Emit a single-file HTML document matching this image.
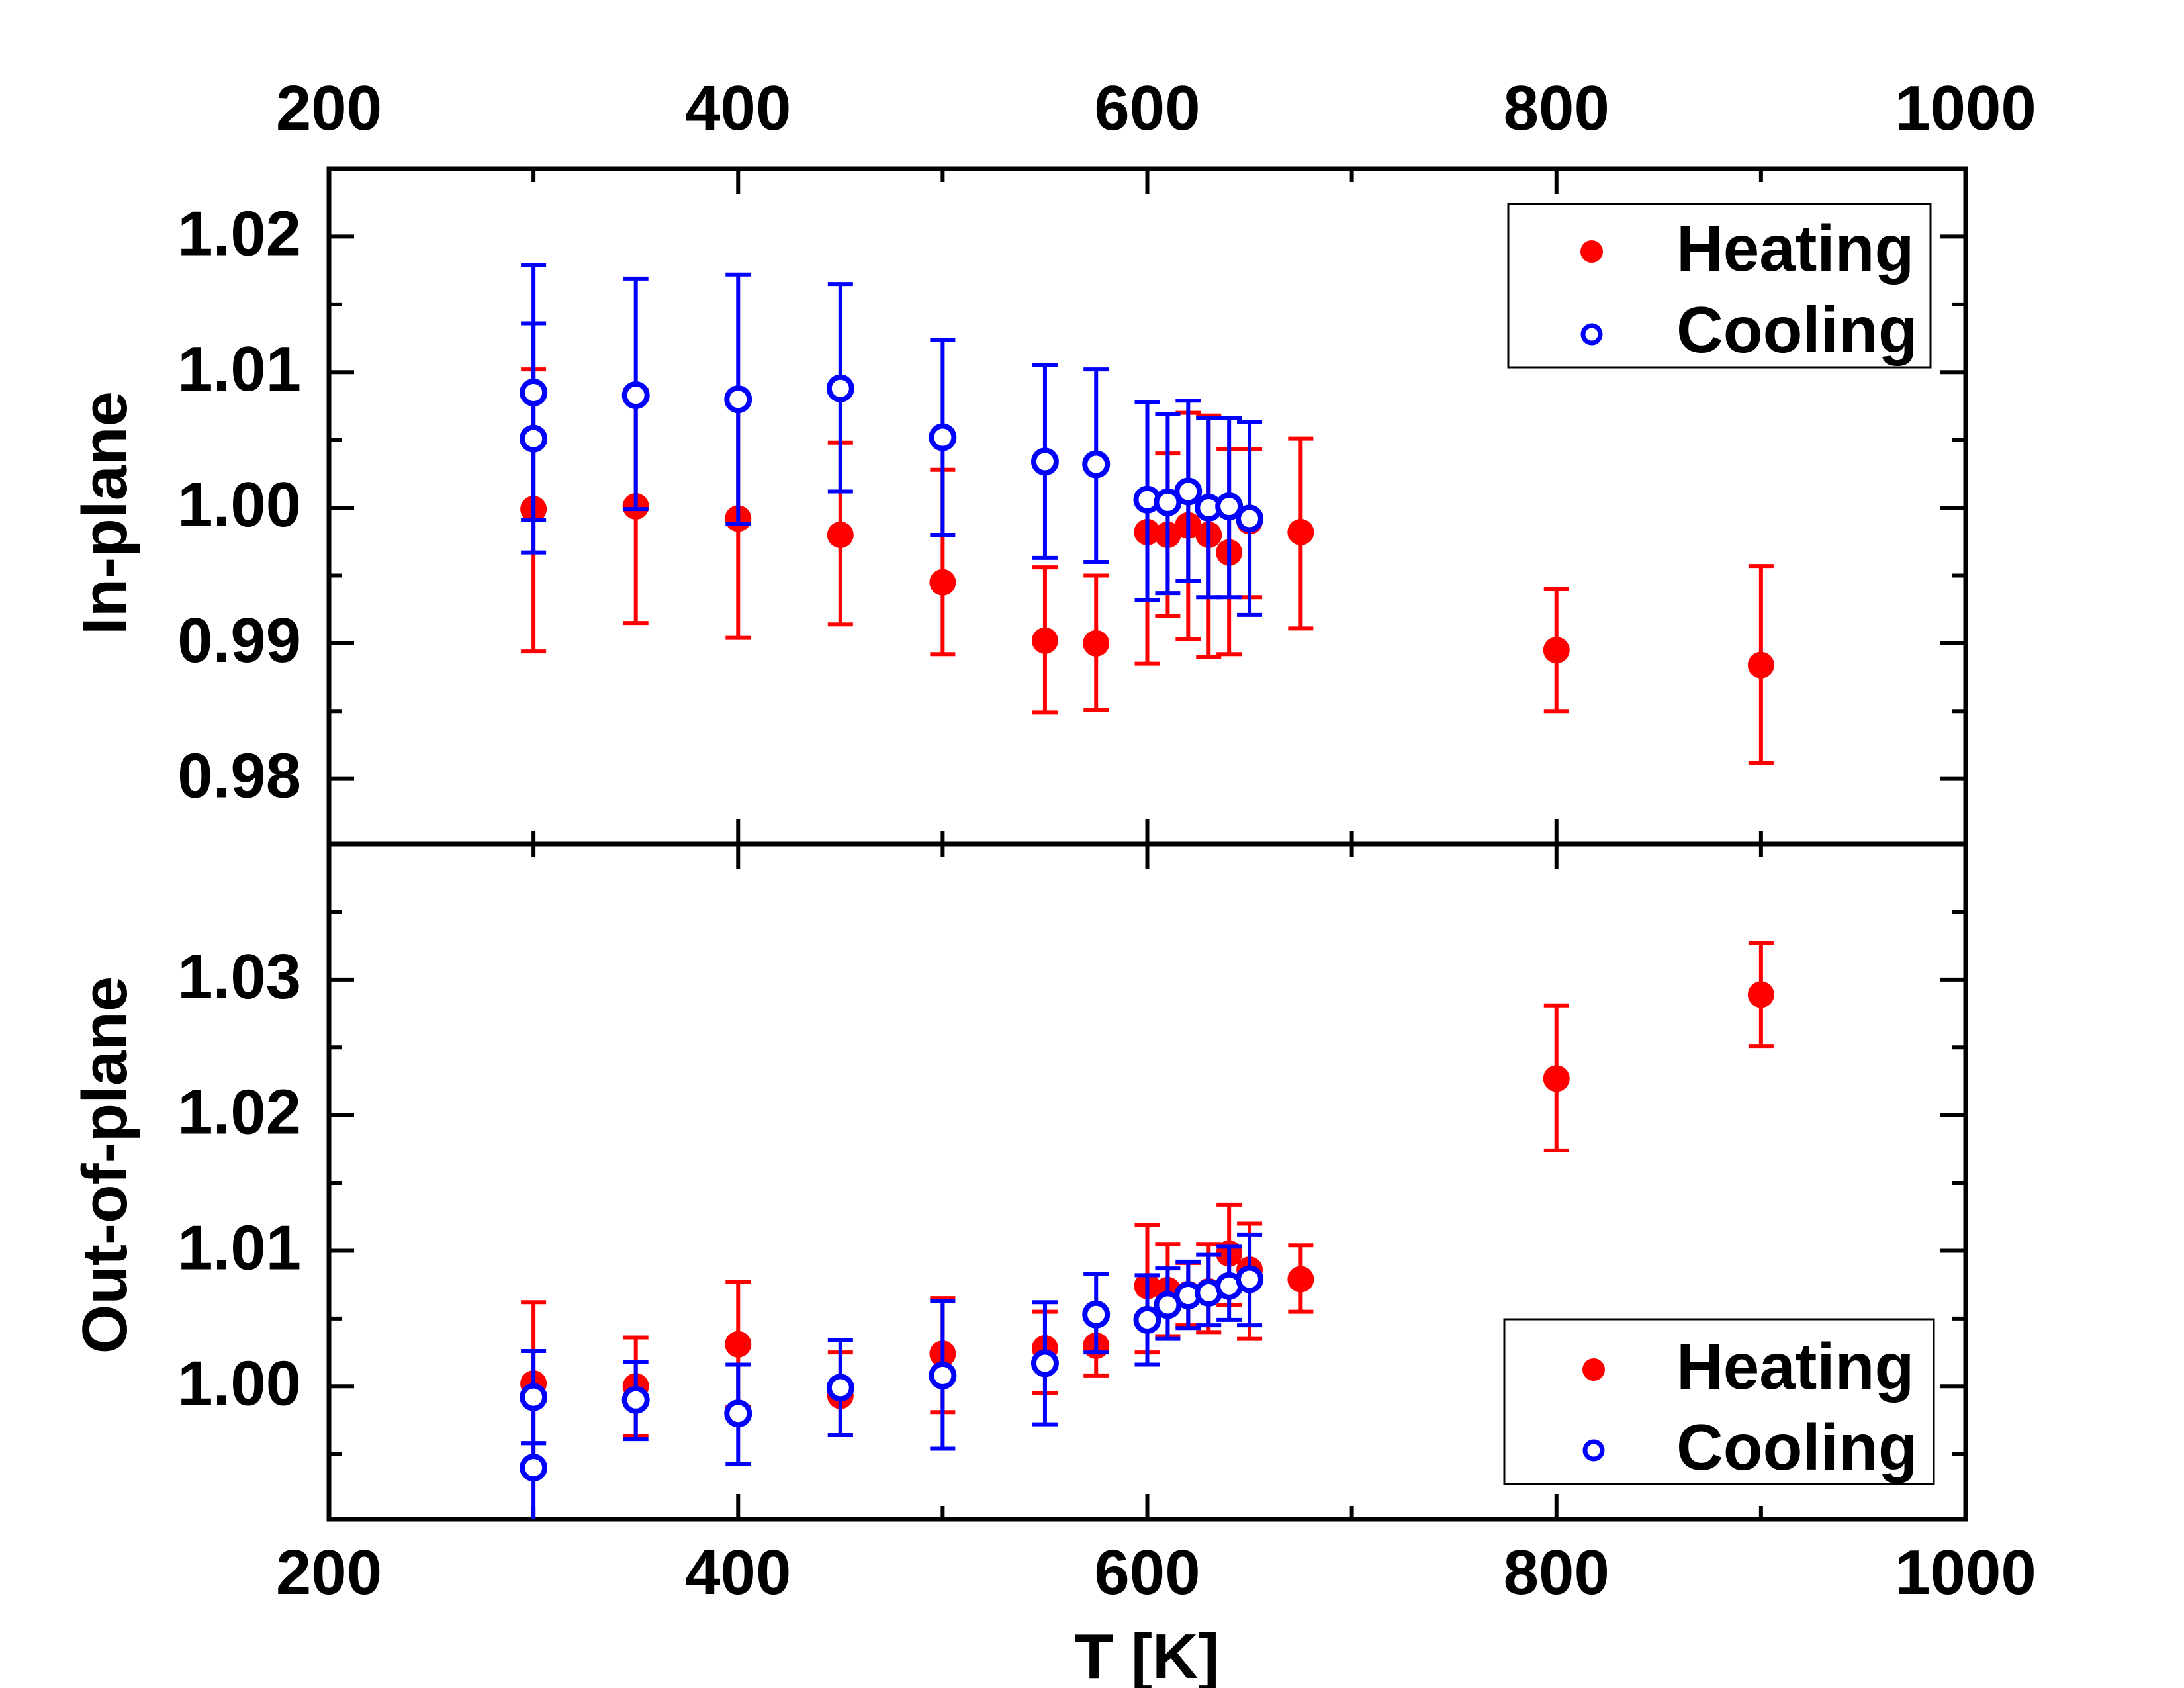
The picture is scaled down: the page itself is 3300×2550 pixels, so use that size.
<!DOCTYPE html>
<html><head><meta charset="utf-8"><style>
html,body{margin:0;padding:0;background:#fff;}
svg{display:block;font-family:"Liberation Sans",Arial,sans-serif;font-weight:bold;}
</style></head><body>
<svg id="chart" width="3300" height="2550" viewBox="0 0 3300 2550" xmlns="http://www.w3.org/2000/svg">
<defs>
<clipPath id="clipTop"><rect x="497" y="255" width="2473" height="1020"/></clipPath>
<clipPath id="clipBot"><rect x="497" y="1275" width="2473" height="1020"/></clipPath>
</defs>
<g id="axes"></g>
<g id="series"></g>
<text x="1733" y="2535" font-size="96" text-anchor="middle">T [K]</text>
<text transform="translate(191,775) rotate(-90)" font-size="96" text-anchor="middle">In-plane</text>
<text transform="translate(191,1760) rotate(-90)" font-size="96" text-anchor="middle">Out-of-plane</text>
<g>
<rect x="2279" y="308" width="638" height="247" fill="#fff" stroke="#000" stroke-width="3"/>
<circle cx="2405" cy="380" r="17" fill="#ff0000"/>
<text x="2533" y="409" font-size="98">Heating</text>
<circle cx="2405" cy="505" r="13" fill="#fff" stroke="#0000ff" stroke-width="7"/>
<text x="2533" y="532" font-size="98">Cooling</text>
</g>
<g>
<rect x="2273" y="1993" width="649" height="249" fill="#fff" stroke="#000" stroke-width="3"/>
<circle cx="2408" cy="2069" r="17" fill="#ff0000"/>
<text x="2533" y="2098" font-size="98">Heating</text>
<circle cx="2408" cy="2191" r="13" fill="#fff" stroke="#0000ff" stroke-width="7"/>
<text x="2533" y="2220" font-size="98">Cooling</text>
</g>
</svg>
<script>
// ---- data ----
const inHeatT   = [300,350,400,450,500,550,575,600,610,620,630,640,650,675,800,900];
const inHeatV   = [0.9999,1.0001,0.9992,0.9980,0.9945,0.9902,0.9900,0.9982,0.9980,0.9987,0.9980,0.9967,0.9990,0.9982,0.9895,0.9884];
const inHeatHi  = [1.0102,1.0087,1.0080,1.0048,1.0028,0.9956,0.9950,1.0078,1.0040,1.0070,1.0068,1.0043,1.0043,1.0051,0.9940,0.9957];
const inHeatLo  = [0.9894,0.9915,0.9904,0.9914,0.9892,0.9849,0.9851,0.9885,0.9920,0.9903,0.9890,0.9892,0.9934,0.9911,0.9850,0.9812];
const inCoolT   = [300,300,350,400,450,500,550,575,600,610,620,630,640,650];
const inCoolV   = [1.0085,1.0051,1.0083,1.0080,1.0088,1.0052,1.0034,1.0032,1.0006,1.0004,1.0012,1.0000,1.0001,0.9992];
const inCoolHi  = [1.0179,1.0136,1.0169,1.0172,1.0165,1.0124,1.0105,1.0102,1.0078,1.0069,1.0079,1.0066,1.0066,1.0063];
const inCoolLo  = [0.9991,0.9967,0.9999,0.9988,1.0012,0.9980,0.9963,0.9960,0.9932,0.9937,0.9946,0.9934,0.9934,0.9921];
const outHeatT  = [300,350,400,450,500,550,575,600,610,620,630,640,650,675,800,900];
const outHeatV  = [1.0002,1.0000,1.0031,0.9993,1.0024,1.0028,1.0030,1.0074,1.0071,1.0068,1.0070,1.0098,1.0086,1.0079,1.0227,1.0289];
const outHeatHi = [1.0062,1.0036,1.0077,1.0025,1.0065,1.0055,1.0055,1.0119,1.0105,1.0091,1.0105,1.0134,1.0120,1.0104,1.0281,1.0327];
const outHeatLo = [0.9940,0.9963,0.9985,0.9964,0.9981,0.9995,1.0008,1.0025,1.0037,1.0045,1.0040,1.0060,1.0035,1.0055,1.0174,1.0251];
const outCoolT  = [300,300,350,400,450,500,550,575,600,610,620,630,640,650];
const outCoolV  = [0.9992,0.9940,0.9990,0.9980,0.9999,1.0008,1.0017,1.0053,1.0049,1.0060,1.0067,1.0069,1.0074,1.0079];
const outCoolHi = [1.0026,0.9958,1.0018,1.0016,1.0034,1.0063,1.0062,1.0083,1.0082,1.0087,1.0092,1.0097,1.0103,1.0112];
const outCoolLo = [0.9958,0.9880,0.9961,0.9943,0.9964,0.9954,0.9972,1.0025,1.0016,1.0035,1.0043,1.0045,1.0049,1.0045];
const xTicks = [200,400,600,800,1000];
const topYTicks = [0.98,0.99,1.00,1.01,1.02];
const botYTicks = [1.00,1.01,1.02,1.03];

// ---- scales ----
const L=497,R=2970,T=255,M=1275,B=2295;
const x = t => L + (t-200)*(R-L)/800;
const yTop = v => T + (1.025 - v)*(M-T)/0.0498;
const yBot = v => M + (1.04 - v)*(B-M)/0.0498;
const NS="http://www.w3.org/2000/svg";
function mk(tag, attrs, parent){const e=document.createElementNS(NS,tag);for(const k in attrs)e.setAttribute(k,attrs[k]);parent.appendChild(e);return e;}
const axes=document.getElementById('axes');
const series=document.getElementById('series');

// frames
mk('rect',{x:L,y:T,width:R-L,height:B-T,fill:'none',stroke:'#000','stroke-width':7},axes);
mk('line',{x1:L,y1:M,x2:R,y2:M,stroke:'#000','stroke-width':7},axes);

// x ticks
for(let t=200;t<=1000;t+=100){
  const len = t%200===0?38:20, X=x(t);
  [[T,1],[M,-1],[M,1],[B,-1]].forEach(([y0,d])=>{
    mk('line',{x1:X,y1:y0,x2:X,y2:y0+d*len,stroke:'#000','stroke-width':6},axes);
  });
}
xTicks.forEach(t=>{
  const a=mk('text',{x:x(t),y:196,'font-size':96,'text-anchor':'middle'},axes);a.textContent=t;
  
  
  const b=mk('text',{x:x(t),y:2408,'font-size':96,'text-anchor':'middle'},axes);b.textContent=t;
  
  
});
// y ticks
function yticks(scale,lo,hi,labels){
  for(let i=Math.round(lo/0.005);i*0.005<=hi+1e-9;i++){
    const v=i*0.005, Y=scale(v);
    const len = i%2===0?38:20;
    mk('line',{x1:L,y1:Y,x2:L+len,y2:Y,stroke:'#000','stroke-width':6},axes);
    mk('line',{x1:R,y1:Y,x2:R-len,y2:Y,stroke:'#000','stroke-width':6},axes);
  }
  labels.forEach(v=>{
    const t=mk('text',{x:455,y:scale(v)+28,'font-size':96,'text-anchor':'end'},axes);t.textContent=v.toFixed(2);
    
    
  });
}
yticks(yTop,0.98,1.02,topYTicks);
yticks(yBot,0.995,1.035,botYTicks);

// series
function draw(ts,vs,his,los,scale,color,filled,clip,name){
  const g=mk('g',{'clip-path':'url(#'+clip+')'},series);
  
  
  ts.forEach((t,i)=>{
    const X=x(t),y1=scale(his[i]),y2=scale(los[i]);
    mk('line',{x1:X,y1:y1,x2:X,y2:y2,stroke:color,'stroke-width':6},g);
    mk('line',{x1:X-19,y1:y1,x2:X+19,y2:y1,stroke:color,'stroke-width':6},g);
    mk('line',{x1:X-19,y1:y2,x2:X+19,y2:y2,stroke:color,'stroke-width':6},g);
  });
  ts.forEach((t,i)=>{
    const c = filled ? mk('circle',{cx:x(t),cy:scale(vs[i]),r:20,fill:color},g)
                     : mk('circle',{cx:x(t),cy:scale(vs[i]),r:17,fill:'#fff',stroke:color,'stroke-width':8},g);
    
    
  });
}
draw(inHeatT,inHeatV,inHeatHi,inHeatLo,yTop,'#ff0000',true,'clipTop','in-plane-heating');
draw(inCoolT,inCoolV,inCoolHi,inCoolLo,yTop,'#0000ff',false,'clipTop','in-plane-cooling');
draw(outHeatT,outHeatV,outHeatHi,outHeatLo,yBot,'#ff0000',true,'clipBot','out-of-plane-heating');
draw(outCoolT,outCoolV,outCoolHi,outCoolLo,yBot,'#0000ff',false,'clipBot','out-of-plane-cooling');
</script>
</body></html>
